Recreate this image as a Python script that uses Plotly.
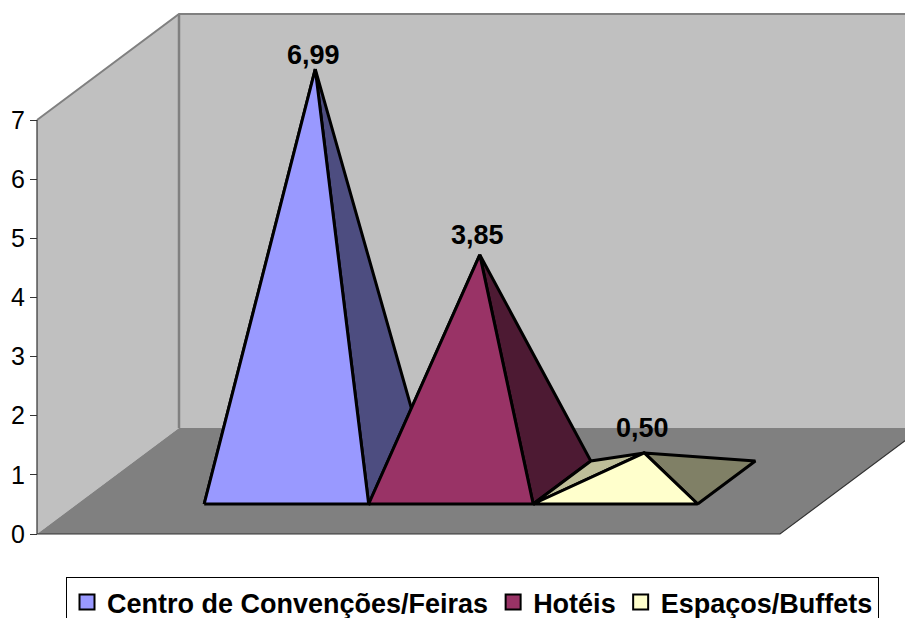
import plotly.graph_objects as go

categories = ["Centro de Convenções/Feiras", "Hotéis", "Espaços/Buffets"]
values = [6.99, 3.85, 0.50]
value_ticks = [0, 1, 2, 3, 4, 5, 6, 7]

front_colors = ["#9999FF", "#993366", "#FFFFCC"]
left_colors = ["#BDBDF0", "#B06080", "#BFBF99"]
right_colors = ["#4D4D80", "#4D1A33", "#808066"]
label_shifts = [-3, 3, 8]

WIDTH, HEIGHT = 905, 618
FONT = "Liberation Sans, Arial, sans-serif"

# px scales of the oblique projection, value 0 / slot 0 sit at (37, 534)
SLOT_PX = 164.5
VALUE_PX = 59.14
ORIGIN_X, ORIGIN_Y = 37, 534
DEPTH_SLOTS = 142 / SLOT_PX
DEPTH_VALUES = 106 / VALUE_PX
FLOOR_SLOTS = 743 / SLOT_PX
GAP_SLOTS = 0.772
DEPTH_FRONT, DEPTH_BACK = 0.283, 0.689
# legend top, the plot area stops here so the legend can run off the page
PLOT_BOTTOM = 577


def project(slot, value, depth=0.0):
    return slot + depth * DEPTH_SLOTS, value + depth * DEPTH_VALUES


def polygon(points, fill, line_color="black", line_width=3):
    xy = [project(*p) for p in points]
    xy.append(xy[0])
    return go.Scatter(
        x=[p[0] for p in xy], y=[p[1] for p in xy], mode="lines", fill="toself", fillcolor=fill,
        line=dict(color=line_color, width=line_width), hoverinfo="skip", showlegend=False,
    )


def edge(points, color, width):
    xy = [project(*p) for p in points]
    return go.Scatter(
        x=[p[0] for p in xy], y=[p[1] for p in xy], mode="lines",
        line=dict(color=color, width=width), hoverinfo="skip", showlegend=False,
    )


fig = go.Figure()
top = value_ticks[-1]

# walls and floor
fig.add_trace(polygon([(0, 0, 0), (0, top, 0), (0, top, 1), (0, 0, 1)], "#C0C0C0", "#C0C0C0", 0))
fig.add_trace(polygon([(0, 0, 1), (0, top, 1), (FLOOR_SLOTS, top, 1), (FLOOR_SLOTS, 0, 1)], "#C0C0C0", "#C0C0C0", 0))
fig.add_trace(polygon([(0, 0, 0), (FLOOR_SLOTS, 0, 0), (FLOOR_SLOTS, 0, 1), (0, 0, 1)], "#808080", "#808080", 0))
fig.add_trace(edge([(0, top, 0), (0, top, 1), (FLOOR_SLOTS, top, 1)], "#808080", 2))
fig.add_trace(edge([(0, top, 1), (0, 0, 1)], "#808080", 2.5))
fig.add_trace(edge([(0, top, 0), (0, 0, 0), (FLOOR_SLOTS, 0, 0), (FLOOR_SLOTS, 0, 1)], "#333333", 1.2))

# pyramids, painted left to right
for i, val in enumerate(values):
    left = GAP_SLOTS + i
    right = left + 1
    mid = left + 0.5
    depth_mid = (DEPTH_FRONT + DEPTH_BACK) / 2
    apex = (mid, val, depth_mid)
    fig.add_trace(polygon([(left, 0, DEPTH_FRONT), (left, 0, DEPTH_BACK), apex], left_colors[i]))
    fig.add_trace(polygon([(right, 0, DEPTH_FRONT), (right, 0, DEPTH_BACK), apex], right_colors[i]))
    fig.add_trace(polygon([(left, 0, DEPTH_FRONT), (right, 0, DEPTH_FRONT), apex], front_colors[i]))
    ax, ay = project(*apex)
    fig.add_annotation(
        x=ax, y=ay, text=f"{val:.2f}".replace(".", ","), showarrow=False, yanchor="bottom",
        xshift=-2, yshift=label_shifts[i], font=dict(family=FONT, size=27, color="black", weight="bold"),
    )

# legend entries
for name, color in zip(categories, front_colors):
    fig.add_trace(go.Scatter(
        x=[None], y=[None], mode="markers", name=name,
        marker=dict(symbol="square", size=15, color=color, line=dict(color="black", width=2)),
    ))

fig.update_layout(
    width=WIDTH, height=HEIGHT,
    margin=dict(l=0, r=0, t=0, b=HEIGHT - PLOT_BOTTOM),
    paper_bgcolor="white", plot_bgcolor="white",
    showlegend=True,
    legend=dict(
        orientation="h", x=66 / WIDTH, xanchor="left", y=(HEIGHT - PLOT_BOTTOM) / HEIGHT, yanchor="top",
        xref="container", yref="container",
        bgcolor="white", bordercolor="black", borderwidth=1,
        font=dict(family=FONT, size=27, color="black", weight="bold"),
        itemclick=False, itemdoubleclick=False,
    ),
    xaxis=dict(
        range=[-ORIGIN_X / SLOT_PX, (WIDTH - ORIGIN_X) / SLOT_PX],
        visible=False, domain=[0, 1], fixedrange=True,
    ),
    yaxis=dict(
        range=[(ORIGIN_Y - PLOT_BOTTOM) / VALUE_PX, ORIGIN_Y / VALUE_PX],
        domain=[0, 1], fixedrange=True,
        anchor="free", position=ORIGIN_X / WIDTH,
        tickmode="array", tickvals=value_ticks, ticktext=[str(v) for v in value_ticks],
        ticks="outside", ticklen=7, tickwidth=1, tickcolor="#333333",
        tickfont=dict(family=FONT, size=25, color="black"),
        showgrid=False, zeroline=False, showline=False,
    ),
)

# the page's default body margin would push the figure 8px in
fig.write_html(
    "out.html", config={"displayModeBar": False},
    post_script="document.body.style.margin='0';document.body.style.overflow='hidden';",
)
